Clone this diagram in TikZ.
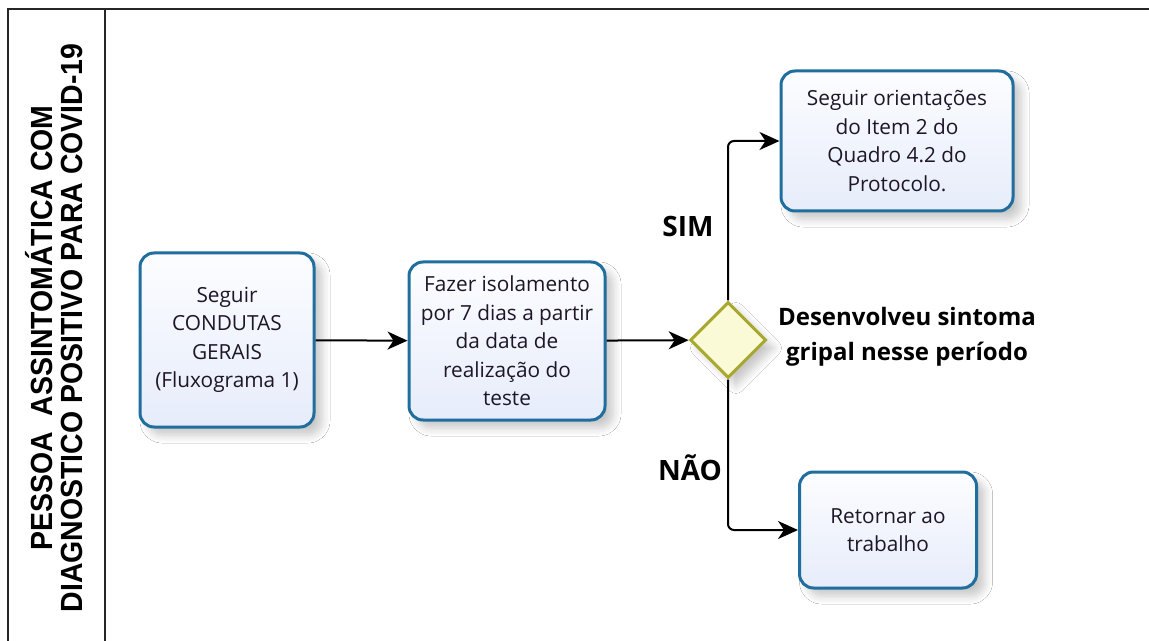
\documentclass[tikz,border=0pt]{standalone}
\usepackage{fontspec}
\setmainfont{Open Sans}
\newfontfamily\titlefont{Liberation Sans}
\usetikzlibrary{shapes.geometric,arrows.meta,shadows.blur}
\definecolor{boxline}{RGB}{31,110,158}
\definecolor{boxfillA}{RGB}{252,253,255}
\definecolor{boxfillB}{RGB}{230,236,250}
\definecolor{dfill}{RGB}{250,250,214}
\definecolor{dline}{RGB}{168,168,48}
\definecolor{txt}{RGB}{30,22,40}
\tikzset{
  procbox/.style={draw=boxline, line width=1.5pt, rounded corners=7pt,
    top color=boxfillA, bottom color=boxfillB, align=center, text=txt,
    font=\fontsize{10.4pt}{14.25pt}\selectfont, inner sep=0pt,
    blur shadow={shadow xshift=4pt, shadow yshift=-4pt, shadow blur steps=8, shadow blur radius=4pt, shadow opacity=22}},
  decision/.style={diamond, draw=dline, line width=1.5pt, fill=dfill, inner sep=0pt,
    minimum width=38pt, minimum height=38pt,
    blur shadow={shadow xshift=4pt, shadow yshift=-4pt, shadow blur steps=8, shadow blur radius=4pt, shadow opacity=22}},
  conn/.style={draw=black, line width=1pt, -{Stealth[length=10pt,width=9pt,inset=3pt]}},
  frameline/.style={draw=black!85, line width=1pt},
  branchlabel/.style={font=\fontsize{14pt}{16pt}\selectfont\bfseries, text=black, inner sep=0pt},
}
\begin{document}
\begin{tikzpicture}[x=0.5pt,y=-0.5pt]
\useasboundingbox (0,0) rectangle (1149,641);
\fill[white] (0,0) rectangle (1149,641);
% frame
\coordinate (tl) at (8,9);
\coordinate (tr) at (1149,9);
\coordinate (bl) at (8,641);
\coordinate (dt) at (105,9);
\coordinate (db) at (105,641);
\draw[frameline] (bl) -- (tl) -- (tr);
\draw[frameline] (dt) -- (db);
% title
\node[rotate=90, align=center, inner sep=0pt, font=\titlefont\bfseries\fontsize{15.3pt}{15pt}\selectfont] (title) at (54,328)
  {\scalebox{0.93}[1]{PESSOA\ \ ASSINTOMÁTICA COM}\\\scalebox{0.93}[1]{DIAGNOSTICO POSITIVO PARA COVID-19}};
% nodes
\node[procbox, minimum width=87pt, minimum height=87pt] (b1) at (227,340)
  {Seguir\\CONDUTAS\\GERAIS\\(Fluxograma 1)};
\node[procbox, minimum width=98pt, minimum height=79pt] (b2) at (507,341)
  {Fazer isolamento\\por 7 dias a partir\\da data de\\realização do\\teste};
\node[decision] (d) at (728,340) {};
\node[procbox, minimum width=116pt, minimum height=70pt] (t) at (897,141)
  {Seguir orientações\\do Item 2 do\\Quadro 4.2 do\\Protocolo.};
\node[procbox, minimum width=88.5pt, minimum height=58pt] (r) at (888,530)
  {Retornar ao\\trabalho};
% labels
\node[align=center, font=\fontsize{12pt}{17.5pt}\selectfont\bfseries, text=black, inner sep=0pt] (q) at (907,337)
  {Desenvolveu sintoma\\gripal nesse período};
\node[branchlabel] (sim) at (688,227) {SIM};
\node[branchlabel] (nao) at (690,468) {NÃO};
% connectors
\draw[conn] (b1) -- (b2);
\draw[conn] (b2) -- (d);
\draw[conn, rounded corners=3pt] (d.north) |- (t.west);
\draw[conn, rounded corners=3pt] (d.south) |- (r.west);
\end{tikzpicture}
\end{document}
